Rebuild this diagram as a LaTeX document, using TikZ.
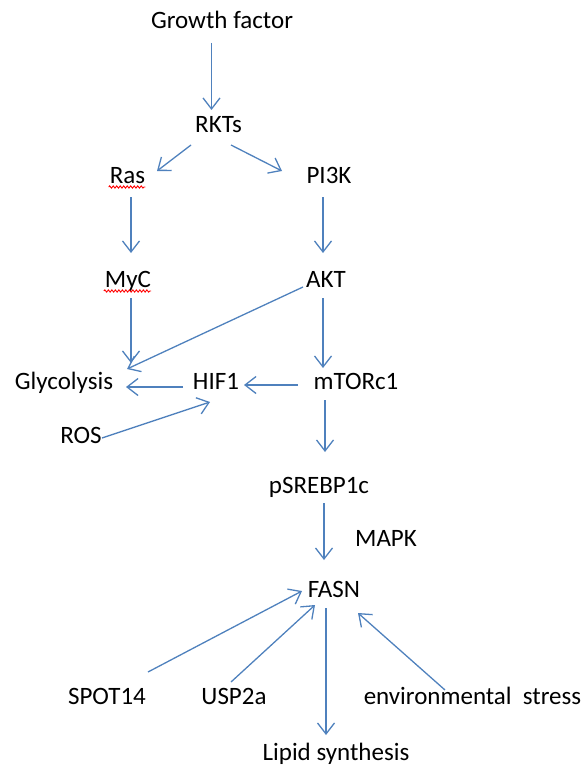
\documentclass[tikz,border=0pt]{standalone}
\usepackage{fontspec}
\setmainfont{Carlito}
\usetikzlibrary{arrows.meta,calc,decorations.pathmorphing}
\definecolor{linkblue}{RGB}{79,129,189}
\tikzset{
  lbl/.style={font=\fontsize{25}{29}\selectfont, inner sep=0pt, anchor=base, text=black},
  link/.style={draw=linkblue, line width=1.3pt, -{Straight Barb[length=11pt,width=17pt,line width=1.3pt]}},
  spell/.style={draw=red, line width=0.9pt, decorate, decoration={snake, amplitude=1.1pt, segment length=3.5pt}}
}
\begin{document}
\begin{tikzpicture}[x=1pt, y=-1pt]
      \useasboundingbox (0,0) rectangle (585,765);
      \node[lbl] (gf) at (222,29) {Growth factor};
      \node[lbl] (rkt) at (218.5,132) {RKTs};
      \node[lbl] (ras) at (127.5,183) {Ras};
      \node[lbl] (pik) at (329,183) {PI3K};
      \node[lbl] (myc) at (128,287) {MyC};
      \node[lbl] (akt) at (326,287) {AKT};
      \node[lbl] (gly) at (64,389) {Glycolysis};
      \node[lbl] (hif) at (216,389) {HIF1};
      \node[lbl] (mtor) at (356,389) {mTORc1};
      \node[lbl] (ros) at (81,443) {ROS};
      \node[lbl] (srebp) at (319,493) {pSREBP1c};
      \node[lbl] (mapk) at (386,546) {MAPK};
      \node[lbl] (fasn) at (334,597) {FASN};
      \node[lbl] (spot) at (107,704) {SPOT14};
      \node[lbl] (usp) at (234,704) {USP2a};
      \node[lbl] (env) at (472.5,704) {environmental\ \ stress};
      \node[lbl] (lipid) at (336,760) {Lipid synthesis};
      % spell-check marks
      \draw[spell] ($(ras.base west)+(-1,4)$) -- ($(ras.base east)+(0,4)$);
      \draw[spell] ($(myc.base west)+(-1,4)$) -- ($(myc.base east)+(0,4)$);
      \begin{scope}[link]
        \draw ($(gf.base)+(-10.5,14)$) to ($(rkt.base)+(-7,-22)$);
        \draw ($(rkt.base)+(-27.5,13)$) to ($(ras.base)+(29.5,-12)$);
        \draw ($(rkt.base)+(12.5,13)$) to ($(pik.base)+(-47,-12)$);
        \draw ($(ras.base)+(3.5,14)$) to ($(myc.base)+(3,-34)$);
        \draw ($(pik.base)+(-6,14)$) to ($(akt.base)+(-3,-34)$);
        \draw ($(myc.base)+(3,11)$) to ($(gly.base)+(67,-26)$);
        \draw ($(akt.base)+(-23,0)$) to ($(gly.base)+(63,-20)$);
        \draw ($(akt.base)+(-3,11)$) to ($(mtor.base)+(-33,-21)$);
        \draw ($(mtor.base)+(-58,-4)$) to ($(hif.base)+(28,-4)$);
        \draw ($(hif.base)+(-33,-2)$) to ($(gly.base)+(62,-2)$);
        \draw ($(ros.base)+(21,-5)$) to ($(hif.base)+(-6,13)$);
        \draw ($(mtor.base)+(-31,11)$) to ($(srebp.base)+(6,-41)$);
        \draw ($(srebp.base)+(5,10)$) to ($(fasn.base)+(-10,-37)$);
        \draw ($(spot.base)+(41,-32)$) to ($(fasn.base)+(-32,-6)$);
        \draw ($(usp.base)+(-3,-22)$) to ($(fasn.base)+(-19,8)$);
        \draw ($(fasn.base)+(-8,11)$) to ($(lipid.base)+(-10,-25)$);
        \draw ($(env.base)+(-27.5,-14)$) to ($(fasn.base)+(24,16)$);
      \end{scope}
    \end{tikzpicture}
\end{document}
